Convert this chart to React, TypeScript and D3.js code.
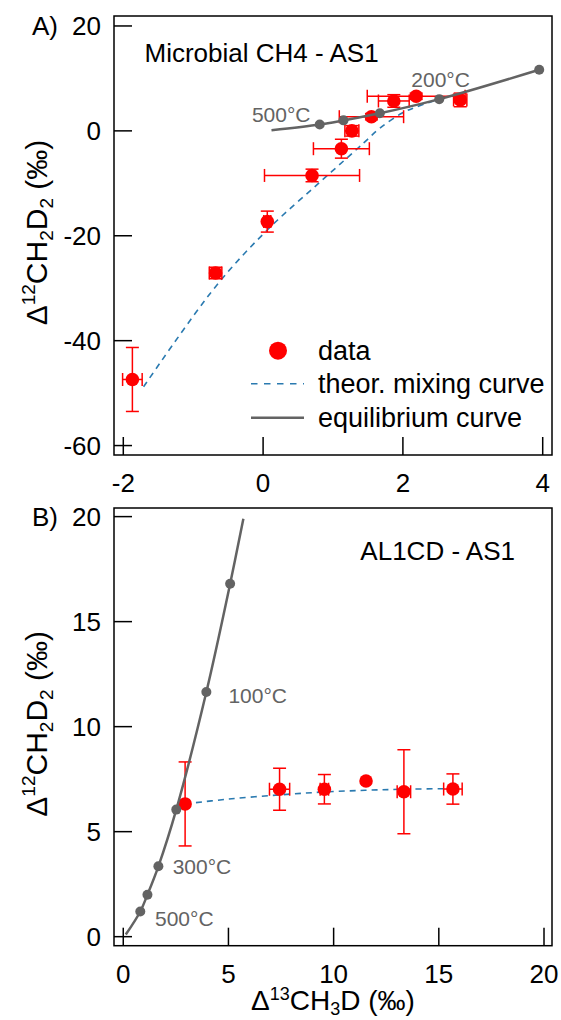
import * as d3 from 'd3';

// Panel A: Microbial CH4 - AS1
const dataAX = [-1.87, -0.68, 0.06, 0.7, 1.12, 1.27, 1.55, 1.87, 2.19, 2.82];
const dataAY = [-47.4, -27.1, -17.3, -8.5, -3.4, 0.0, 2.7, 5.7, 6.6, 5.9];
const errAX = [0.14, 0.09, 0.05, 0.68, 0.4, 0.1, 0.46, 0.22, 0.7, 0.095];
const errAY = [6.1, 1.1, 2.0, 1.2, 1.8, 1.0, 0.6, 1.2, 0.6, 1.3];
const mixAX = [-1.71, -0.68, 0.06, 0.82, 1.44, 1.67, 1.99, 2.2, 2.52];
const mixAY = [-48.8, -29.7, -18.9, -9.7, -2.3, 0.5, 3.4, 4.6, 6.05];

// Panel B: AL1CD - AS1
const dataBX = [2.94, 7.43, 9.56, 11.54, 13.34, 15.67];
const dataBY = [6.32, 7.02, 7.02, 7.41, 6.9, 7.03];
const errBX = [0, 0.48, 0.2, 0, 0.32, 0.44];
const errBY = [2.0, 1.0, 0.7, 0, 2.0, 0.72];
const mixBX = [2.94, 5.0, 7.43, 9.56, 11.5, 13.34, 15.67];
const mixBY = [6.32, 6.55, 6.75, 6.89, 6.97, 7.02, 7.05];

// equilibrium curve, shared by both panels
const eqX = [0.12, 0.81, 1.15, 1.67, 2.52, 3.95, 5.08, 5.71];
const eqY = [0.1, 1.2, 2.0, 3.35, 6.05, 11.65, 16.8, 19.9];
const eqDotX = [0.81, 1.15, 1.67, 2.52, 3.95, 5.08];
const eqDotY = [1.2, 2.0, 3.35, 6.05, 11.65, 16.8];

// temperature annotations
const tempA = ['500°C', '200°C'];
const tempAX = [-0.16, 2.12];
const tempAY = [1.77, 8.44];
const tempB = ['100°C', '300°C', '500°C'];
const tempBX = [5.0, 2.35, 1.51];
const tempBY = [11.14, 2.99, 0.51];

const ticksAX = [-2, 0, 2, 4];
const ticksAY = [20, 0, -20, -40, -60];
const ticksBX = [0, 5, 10, 15, 20];
const ticksBY = [0, 5, 10, 15, 20];

const W = 561;
const H = 1020;
const LEFT = 114;
const RIGHT = 552;
const TICK = 18;
const FONT = '"Liberation Sans", Arial, sans-serif';
const RED = '#ff0000';
const GREY = '#636363';
const BLUE = '#2a7ab0';

const zip = (a, b) => a.map((v, i) => [v, b[i]]);

function YLabel({ x, y }) {
  return (
    <text transform={`translate(${x},${y}) rotate(-90)`} textAnchor="middle" fontSize={30}>
      Δ<tspan fontSize={19} dy={-12}>12</tspan>
      <tspan dy={12}>CH</tspan>
      <tspan fontSize={19} dy={6}>2</tspan>
      <tspan dy={-6}>D</tspan>
      <tspan fontSize={19} dy={6}>2</tspan>
      <tspan dy={-6}> (‰)</tspan>
    </text>
  );
}

function Panel({ p }) {
  const x = d3.scaleLinear().domain(p.xDomain).range([LEFT, RIGHT]);
  const y = d3.scaleLinear().domain(p.yDomain).range([p.bottom, p.top]);
  const line = d3.line().x(d => x(d[0])).y(d => y(d[1])).curve(d3.curveCatmullRom);

  const eqPts = zip(eqX, eqY).filter(d => d[0] <= p.xDomain[1]);
  const eqDots = zip(eqDotX, eqDotY).filter(d => d[0] <= p.xDomain[1]);
  const pts = p.dx.map((v, i) => ({ x: v, y: p.dy[i], ex: p.ex[i], ey: p.ey[i] }));
  const cap = 6.5;
  const topTick = d3.max(p.yTicks);

  return (
    <g>
      <rect x={LEFT} y={p.top} width={RIGHT - LEFT} height={p.bottom - p.top}
        fill="none" stroke="#000" strokeWidth={1.5} />
      {p.yTicks.map(t => (
        <g key={'y' + t}>
          <line x1={LEFT} x2={LEFT + TICK} y1={y(t)} y2={y(t)} stroke="#000" strokeWidth={1.5} />
          <text x={LEFT - 13} y={y(t)} dy="0.36em" textAnchor="end" fontSize={26}>{String(t)}</text>
        </g>
      ))}
      {p.xTicks.map(t => (
        <g key={'x' + t}>
          <line x1={x(t)} x2={x(t)} y1={p.bottom} y2={p.bottom - TICK} stroke="#000" strokeWidth={1.5} />
          <text x={x(t)} y={p.bottom + 37} textAnchor="middle" fontSize={26}>{String(t)}</text>
        </g>
      ))}

      <path d={line(zip(p.mx, p.my))} fill="none" stroke={BLUE} strokeWidth={1.6} strokeDasharray="6,5" />

      {pts.map((d, i) => (
        <g key={'e' + i} stroke={RED} strokeWidth={1.5}>
          {d.ey > 0 && (
            <>
              <line x1={x(d.x)} x2={x(d.x)} y1={y(d.y - d.ey)} y2={y(d.y + d.ey)} />
              <line x1={x(d.x) - cap} x2={x(d.x) + cap} y1={y(d.y - d.ey)} y2={y(d.y - d.ey)} />
              <line x1={x(d.x) - cap} x2={x(d.x) + cap} y1={y(d.y + d.ey)} y2={y(d.y + d.ey)} />
            </>
          )}
          {d.ex > 0 && (
            <>
              <line x1={x(d.x - d.ex)} x2={x(d.x + d.ex)} y1={y(d.y)} y2={y(d.y)} />
              <line x1={x(d.x - d.ex)} x2={x(d.x - d.ex)} y1={y(d.y) - cap} y2={y(d.y) + cap} />
              <line x1={x(d.x + d.ex)} x2={x(d.x + d.ex)} y1={y(d.y) - cap} y2={y(d.y) + cap} />
            </>
          )}
        </g>
      ))}
      {pts.map((d, i) => (
        <circle key={'p' + i} cx={x(d.x)} cy={y(d.y)} r={6.8} fill={RED} />
      ))}

      <path d={line(eqPts)} fill="none" stroke={GREY} strokeWidth={2.5} />
      {eqDots.map((d, i) => (
        <circle key={'q' + i} cx={x(d[0])} cy={y(d[1])} r={5} fill={GREY} />
      ))}
      {p.temps.map((t, i) => (
        <text key={'t' + i} x={x(p.tx[i])} y={y(p.ty[i])} fontSize={21} fill={GREY}>{t}</text>
      ))}

      <text x={x(p.titleX)} y={y(p.titleY)} fontSize={26}>{p.title}</text>
      <text x={32} y={y(topTick)} dy="0.36em" fontSize={26}>{p.letter}</text>
      <YLabel x={47} y={(p.top + p.bottom) / 2 - 3} />
    </g>
  );
}

function Legend({ x0, y0 }) {
  return (
    <g fontSize={27}>
      <circle cx={x0 + 27} cy={y0} r={9} fill={RED} />
      <text x={x0 + 67} y={y0} dy="0.36em">data</text>
      <line x1={x0} x2={x0 + 53} y1={y0 + 33} y2={y0 + 33} stroke={BLUE} strokeWidth={1.6} strokeDasharray="6.5,6.5" />
      <text x={x0 + 67} y={y0 + 33} dy="0.36em">theor. mixing curve</text>
      <line x1={x0} x2={x0 + 53} y1={y0 + 67} y2={y0 + 67} stroke={GREY} strokeWidth={2.5} />
      <text x={x0 + 67} y={y0 + 67} dy="0.36em">equilibrium curve</text>
    </g>
  );
}

const panelA = {
  top: 16, bottom: 455, xDomain: [-2.133, 4.133], yDomain: [-61.8, 21.9],
  xTicks: ticksAX, yTicks: ticksAY,
  dx: dataAX, dy: dataAY, ex: errAX, ey: errAY, mx: mixAX, my: mixAY,
  temps: tempA, tx: tempAX, ty: tempAY,
  title: 'Microbial CH4 - AS1', titleX: -1.696, titleY: 13.09, letter: 'A)'
};

const panelB = {
  top: 508, bottom: 945.7, xDomain: [-0.44, 20.38], yDomain: [-0.43, 20.41],
  xTicks: ticksBX, yTicks: ticksBY,
  dx: dataBX, dy: dataBY, ex: errBX, ey: errBY, mx: mixBX, my: mixBY,
  temps: tempB, tx: tempBX, ty: tempBY,
  title: 'AL1CD - AS1', titleX: 11.27, titleY: 17.94, letter: 'B)'
};

export default function App() {
  return (
    <svg width={W} height={H} fontFamily={FONT}
      style={{ position: 'absolute', left: 0, top: 0, display: 'block', background: '#fff' }}>
      <Panel p={panelA} />
      <Legend x0={251} y0={350.7} />
      <Panel p={panelB} />
      <text x={333} y={1010} textAnchor="middle" fontSize={28}>
        Δ<tspan fontSize={18} dy={-10}>13</tspan>
        <tspan dy={10}>CH</tspan>
        <tspan fontSize={18} dy={5}>3</tspan>
        <tspan dy={-5}>D (‰)</tspan>
      </text>
    </svg>
  );
}
